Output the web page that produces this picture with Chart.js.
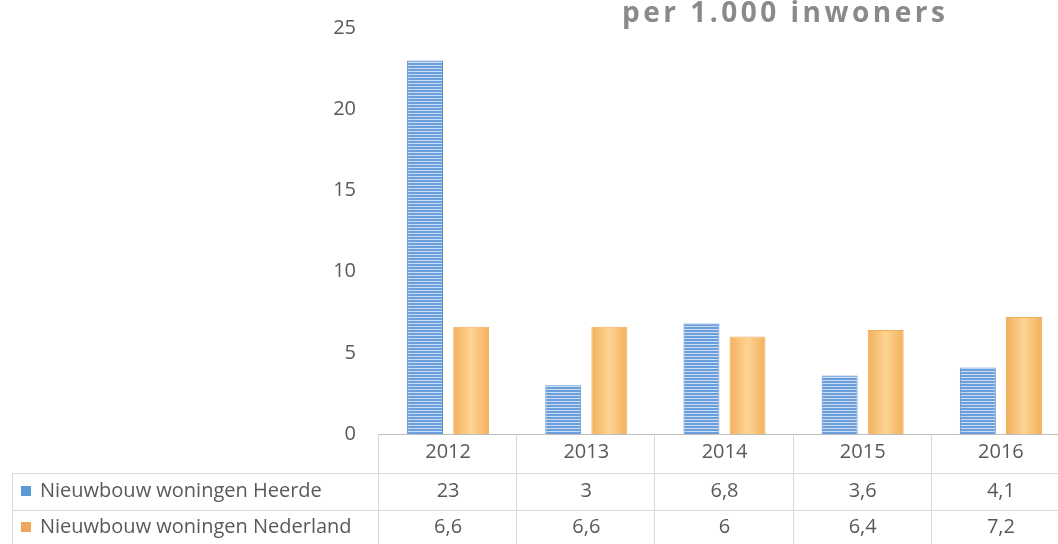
<!DOCTYPE html>
<html>
<head>
<meta charset="utf-8">
<script src="https://cdn.jsdelivr.net/npm/chart.js@4"></script>
<style>
  html, body { margin: 0; padding: 0; overflow: hidden; background: #fff; }
  #wrap { width: 1070px; height: 544px; }
</style>
</head>
<body>
<div id="wrap"><canvas id="bouwChart" width="1070" height="544"></canvas></div>
<script>
// data
const years = ["2012", "2013", "2014", "2015", "2016"];
const heerde = [23, 3, 6.8, 3.6, 4.1];
const nederland = [6.6, 6.6, 6, 6.4, 7.2];
const seriesNames = ["Nieuwbouw woningen Heerde", "Nieuwbouw woningen Nederland"];
const yTicks = [0, 5, 10, 15, 20, 25];

const catPct = 0.667;
const barPct = 0.78;
const textColor = "#595959";
const fontFam = "'Open Sans', 'Noto Sans', sans-serif";

// blue striped pattern
function stripePattern() {
  const c = document.createElement("canvas");
  c.width = 4;
  c.height = 3;
  const g = c.getContext("2d");
  g.fillStyle = "#6a9fdc";
  g.fillRect(0, 0, 4, 2);
  g.fillStyle = "#cadcf3";
  g.fillRect(0, 2, 4, 1);
  return g.createPattern(c, "repeat");
}
const bluePattern = stripePattern();

// orange bar: horizontal gradient, light in the middle
function orangeFill(context) {
  const chart = context.chart;
  const xs = chart.scales.x;
  if (!xs || context.dataIndex == null) return "#f8c27a";
  const cw = xs.width / years.length;
  const slot = (cw * catPct) / 2;
  const cx = xs.getPixelForValue(context.dataIndex) + slot / 2;
  const w = slot * barPct;
  if (!isFinite(cx) || !isFinite(w) || w <= 0) return "#f8c27a";
  const grad = chart.ctx.createLinearGradient(cx - w / 2, 0, cx + w / 2, 0);
  grad.addColorStop(0, "#f3b05c");
  grad.addColorStop(0.5, "#fdd493");
  grad.addColorStop(1, "#f3b05c");
  return grad;
}

const fmt = (v) => String(v).replace(".", ",");

// title + data table under the plot
const tablePlugin = {
  id: "dataTable",
  afterDraw(chart) {
    const c = chart.ctx;
    const area = chart.chartArea;
    const xs = chart.scales.x;
    const W = chart.width;
    const cw = xs.width / years.length;
    c.save();

    // title
    c.font = "bold 28px " + fontFam;
    c.fillStyle = "#8a8a8a";
    c.letterSpacing = "3.5px";
    c.textAlign = "left";
    c.textBaseline = "alphabetic";
    c.fillText("per 1.000 inwoners", 622, 22);
    c.letterSpacing = "0px";

    // lines
    c.lineWidth = 1;
    c.strokeStyle = "#bfbfbf";
    c.beginPath();
    c.moveTo(area.left, 434.5);
    c.lineTo(W, 434.5);
    c.stroke();
    c.strokeStyle = "#d9d9d9";
    c.beginPath();
    c.moveTo(12, 473.5);
    c.lineTo(W, 473.5);
    c.moveTo(12, 510.5);
    c.lineTo(W, 510.5);
    c.moveTo(12.5, 473);
    c.lineTo(12.5, 544);
    for (let i = 0; i <= years.length; i++) {
      const x = Math.round(area.left + i * cw) - 0.5;
      c.moveTo(x, 434);
      c.lineTo(x, 544);
    }
    c.stroke();

    // cell text
    c.font = "20px " + fontFam;
    c.fillStyle = textColor;
    c.textAlign = "center";
    c.textBaseline = "middle";
    const rows = [heerde, nederland];
    const rowY = [491, 527];
    years.forEach((yr, i) => {
      const x = xs.getPixelForValue(i);
      c.fillText(yr, x, 452);
      rows.forEach((r, k) => c.fillText(fmt(r[i]), x, rowY[k]));
    });

    // legend keys
    const keyCol = ["#5b9bd5", "#f0a65a"];
    c.textAlign = "left";
    seriesNames.forEach((name, k) => {
      c.fillStyle = keyCol[k];
      c.fillRect(21, rowY[k] - 5, 10, 10);
      c.fillStyle = textColor;
      c.fillText(name, 40, rowY[k]);
    });
    c.restore();
  },
};

const ctx = document.getElementById("bouwChart").getContext("2d");
const bouwChart = new Chart(ctx, {
  type: "bar",
  data: {
    labels: years,
    datasets: [
      {
        label: seriesNames[0],
        data: heerde,
        backgroundColor: bluePattern,
        borderColor: "#5b8fd2",
        borderWidth: 1,
      },
      {
        label: seriesNames[1],
        data: nederland,
        backgroundColor: orangeFill,
        borderColor: "#f2ad5a",
        borderWidth: 1,
      },
    ],
  },
  options: {
    responsive: false,
    animation: false,
    categoryPercentage: catPct,
    barPercentage: barPct,
    layout: { padding: { top: 28, left: 0, right: 0, bottom: 0 } },
    scales: {
      x: {
        ticks: { display: false },
        grid: { display: false },
        border: { display: false },
        afterFit(s) {
          s.height = 110;
        },
      },
      y: {
        min: 0,
        max: 25,
        afterBuildTicks(s) {
          s.ticks = yTicks.map((v) => ({ value: v }));
        },
        ticks: {
          color: textColor,
          font: { family: fontFam, size: 20 },
          padding: 23,
        },
        grid: { display: false, drawTicks: false },
        border: { display: false },
        afterFit(s) {
          s.width = 379;
          s.paddingTop = 0;
          s.paddingBottom = 0;
        },
      },
    },
    plugins: {
      legend: { display: false },
      tooltip: { enabled: false },
    },
  },
  plugins: [tablePlugin],
});
</script>
</body>
</html>
